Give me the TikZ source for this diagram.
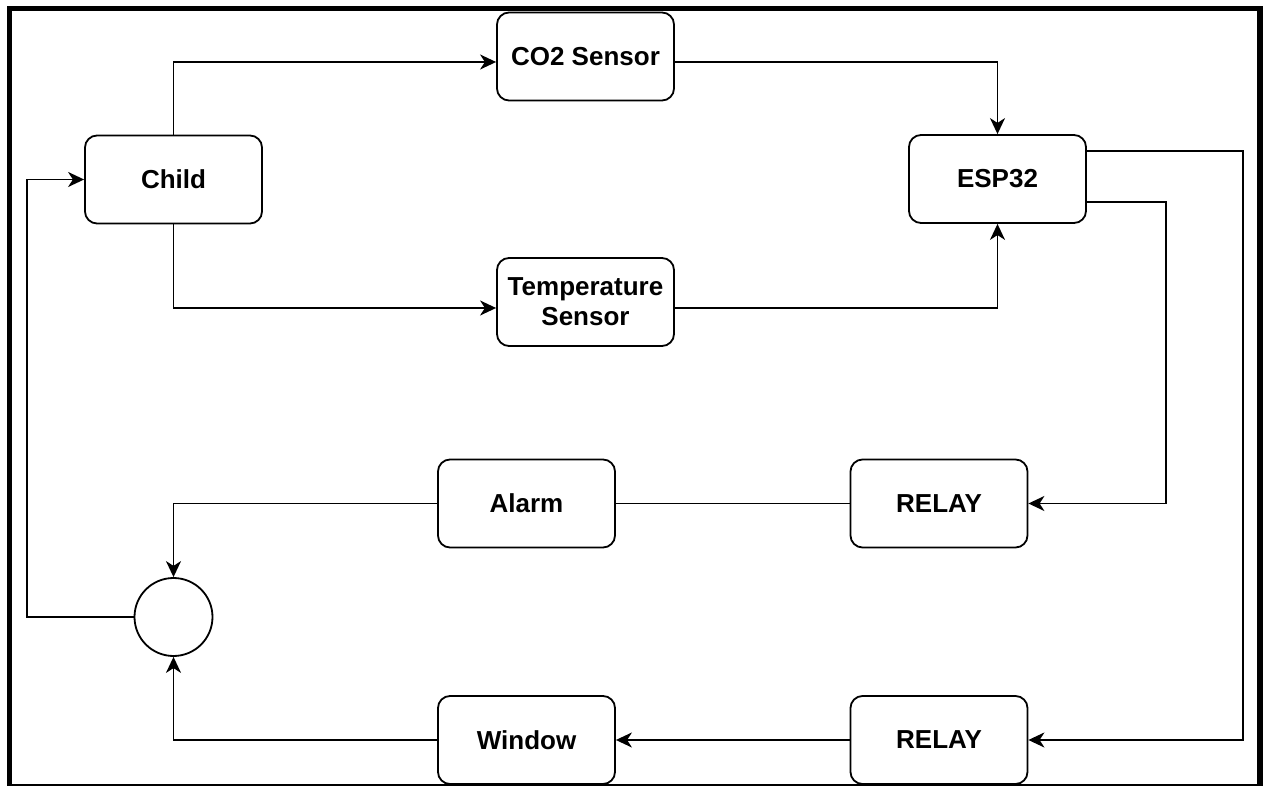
\documentclass[tikz,border=0pt]{standalone}
\usepackage{fontspec}
\setmainfont{Liberation Sans}
\usetikzlibrary{arrows.meta}
\begin{document}
\begin{tikzpicture}[x=0.5pt,y=-0.5pt,line width=0.9pt,>={Stealth[length=8pt,width=7.5pt,inset=2.4pt]},
	font=\bfseries\fontsize{13}{15}\selectfont,
	box/.style={draw,rounded corners=6pt,minimum width=88.5pt,minimum height=44pt,inner sep=0pt,align=center},
	sum/.style={draw,circle,minimum size=39pt,inner sep=0pt}]
	\useasboundingbox (0,0) rectangle (1265,786);
	\draw[line width=2.6pt] (9.5,786) -- (9.5,8.5) -- (1260,8.5) -- (1260,786);
	\draw[line width=0.8pt] (9.5,785) -- (1260,785);
	\node[box] (child) at (173.5,179.5) {Child};
	\node[box] (co2) at (585.5,56.5) {CO2 Sensor};
	\node[box] (temp) at (585.5,302) {Temperature\\Sensor};
	\node[box] (esp) at (997.5,179) {ESP32};
	\node[box] (relaya) at (939,503.5) {RELAY};
	\node[box] (alarm) at (526.5,503.5) {Alarm};
	\node[box] (relayb) at (939,740) {RELAY};
	\node[box] (window) at (526.5,740) {Window};
	\node[sum] (add) at (173.5,617) {};
	\draw[->] (child.north) |- ([yshift=-2.75pt]co2.west);
	\draw[->] (child.south) |- ([yshift=-3pt]temp.west);
	\draw[->] ([yshift=-2.75pt]co2.east) -| (esp.north);
	\draw[->] ([yshift=-3pt]temp.east) -| (esp.south);
	\draw[->] ([yshift=14pt]esp.east) -- ++(78pt,0) |- (relayb.east);
	\draw[->] ([yshift=-11.5pt]esp.east) -- ++(39.5pt,0) |- (relaya.east);
	\draw (relaya.west) -- (alarm.east);
	\draw[->] (relayb.west) -- (window.east);
	\draw[->] (alarm.west) -| (add.north);
	\draw[->] (window.west) -| (add.south);
	\draw[->] (add.west) -- ++(-53.5pt,0) |- (child.west);
\end{tikzpicture}
\end{document}
